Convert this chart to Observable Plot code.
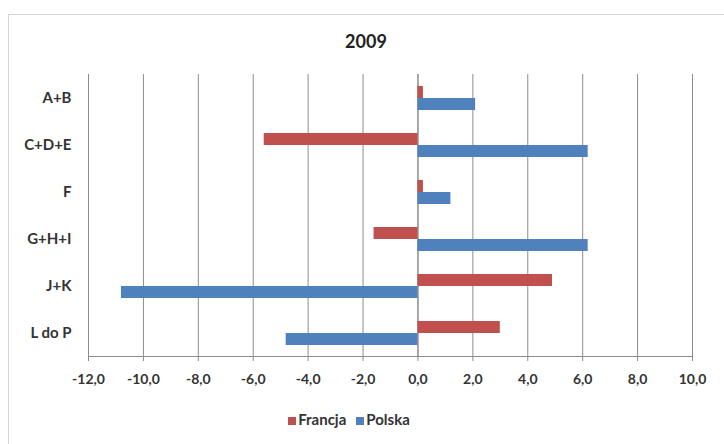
<!DOCTYPE html>
<html><head><meta charset="utf-8">
<script src="https://cdn.jsdelivr.net/npm/d3@7"></script>
<script src="https://cdn.jsdelivr.net/npm/@observablehq/plot@0.6"></script>
<style>
body{margin:0;background:#fff;font-family:Lato,"Liberation Sans",sans-serif;}
#wrap{position:relative;width:724px;height:444px;overflow:hidden;background:#fff;}
#frame{position:absolute;left:8px;top:14px;width:720px;height:440px;border:1px solid #d4d4d4;box-sizing:border-box;}
#title{position:absolute;left:0;width:732px;top:30px;text-align:center;font-weight:bold;font-size:18px;color:#222;}
#legend{position:absolute;left:0;width:698px;top:410px;text-align:center;font-size:15px;font-weight:bold;color:#333;}
#legend span.item{margin:0 5px;}
#legend i{display:inline-block;width:8px;height:8px;margin-right:2px;vertical-align:0px;}
#chart{position:absolute;left:0;top:0;}
</style>
</head><body>
<div id="wrap">
<div id="frame"></div>
<div id="chart"></div>
<div id="title">2009</div>
<div id="legend"></div>
</div>
<script>
const categories = ["A+B","C+D+E","F","G+H+I","J+K","L do P"];
const series = ["Francja","Polska"];
const francja = [0.2,-5.6,0.2,-1.6,4.9,3.0];
const polska = [2.1,6.2,1.2,6.2,-10.8,-4.8];
const colors = ["#C0504D","#4F81BD"];
const xTicks = [-12,-10,-8,-6,-4,-2,0,2,4,6,8,10];

const data = [];
categories.forEach((c,i)=>{
  data.push({category:c, series:series[0], value:francja[i]});
  data.push({category:c, series:series[1], value:polska[i]});
});
const fmt = d => d.toFixed(1).replace(".", ",");

const chart = Plot.plot({
  width:724, height:444,
  marginLeft:88, marginRight:32, marginTop:72, marginBottom:86,
  style:{fontFamily:"Lato, 'Liberation Sans', sans-serif", fontSize:"14px", color:"#222", background:"transparent"},
  x:{domain:[-12,10], ticks:xTicks, label:null},
  fy:{domain:categories, padding:0, label:null},
  y:{domain:series, paddingInner:0, paddingOuter:0.83, axis:null},
  color:{domain:series, range:colors},
  marks:[
    Plot.gridX(xTicks, {stroke:"#8c8c8c", strokeOpacity:1}),
    Plot.ruleX([0], {stroke:"#8c8c8c"}),
    Plot.barX(data, {x:"value", y:"series", fy:"category", fill:"series"}),
    Plot.frame({anchor:"bottom", facetAnchor:"bottom", stroke:"#8c8c8c"}),
    Plot.axisX(xTicks, {tickFormat:fmt, tickSize:5, tickPadding:13, stroke:"#8c8c8c", label:null, fontSize:14, fontWeight:"bold", fill:"#333"}),
    Plot.axisFy({anchor:"left", tickSize:0, tickPadding:17, label:null, fontSize:15, fontWeight:"bold", fill:"#333"})
  ]
});
document.getElementById("chart").appendChild(chart);

const lg = document.getElementById("legend");
series.forEach((s,i)=>{
  const sp = document.createElement("span");
  sp.className="item";
  const sw = document.createElement("i");
  sw.style.background = colors[i];
  sp.appendChild(sw);
  sp.appendChild(document.createTextNode(s));
  lg.appendChild(sp);
});
</script>
</body></html>
